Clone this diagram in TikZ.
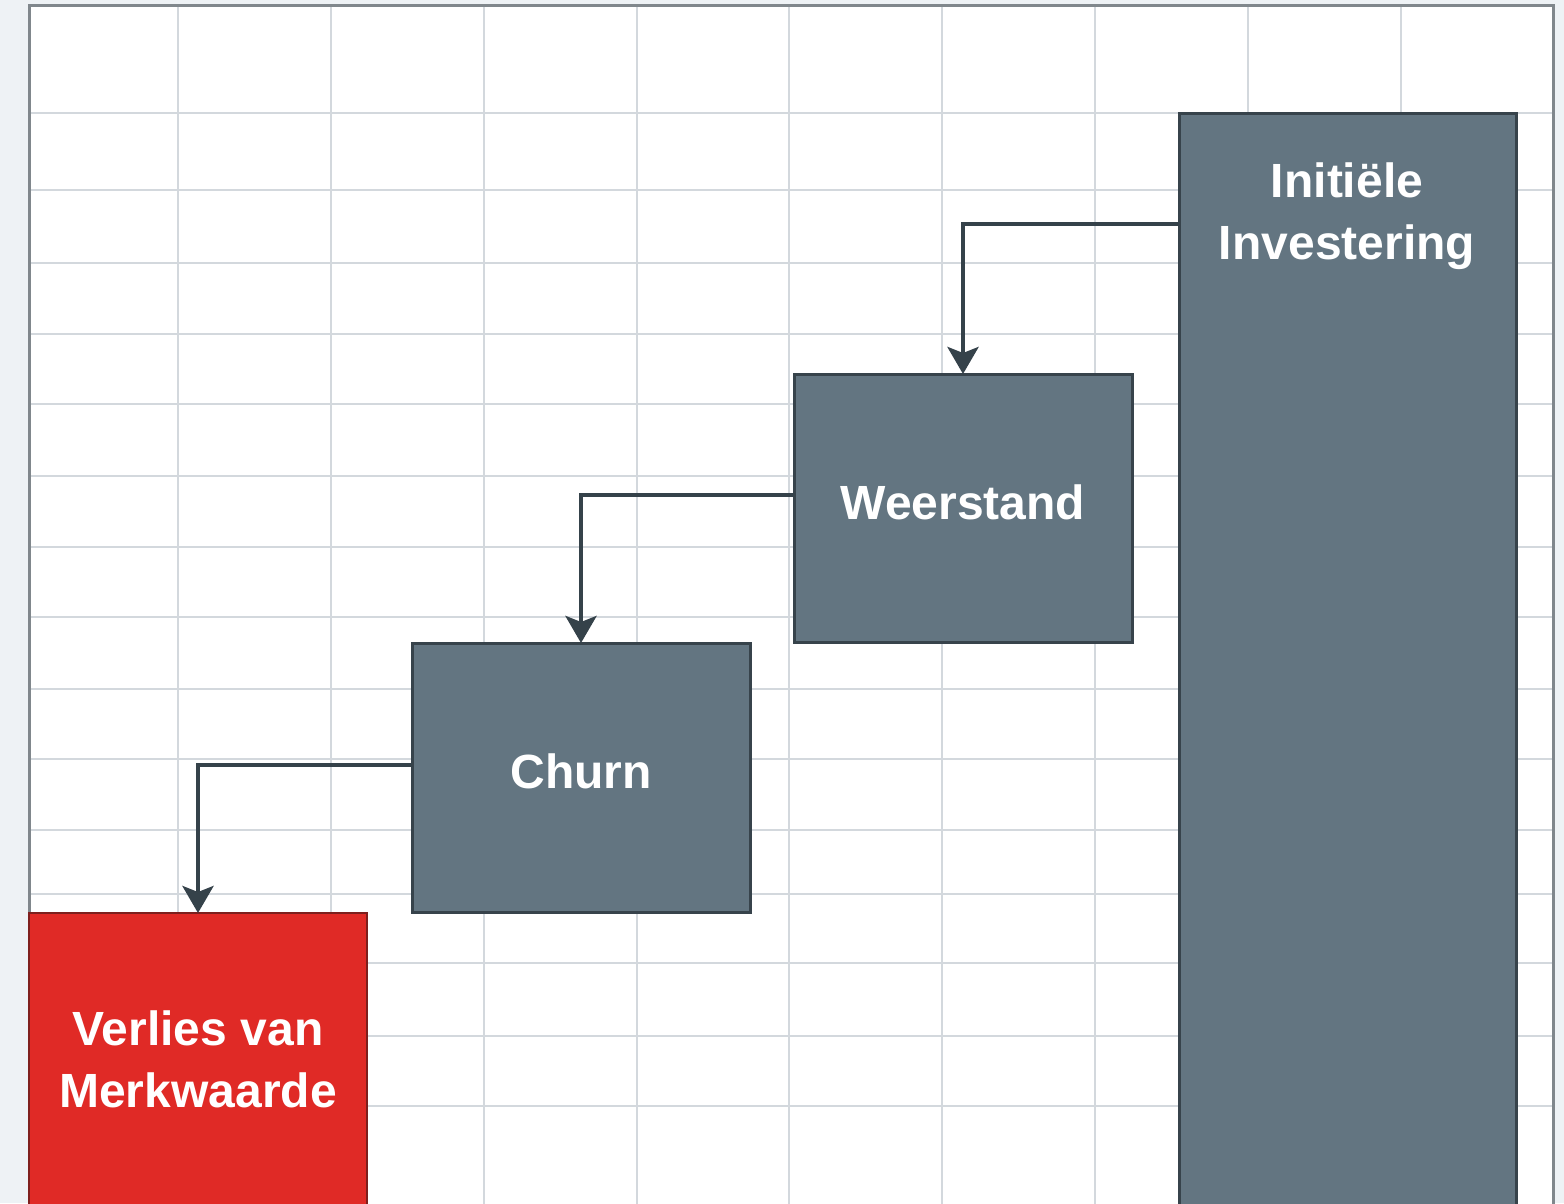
\documentclass[tikz,border=0pt]{standalone}
\usepackage{fontspec}
\setmainfont{Liberation Sans}
\usetikzlibrary{arrows.meta,calc}
\definecolor{outerbg}{HTML}{EEF2F5}
\definecolor{gridc}{HTML}{D3D8DD}
\definecolor{framec}{HTML}{80878C}
\definecolor{slate}{HTML}{637581}
\definecolor{slateedge}{HTML}{37434B}
\definecolor{alarm}{HTML}{E02A26}
\definecolor{alarmedge}{HTML}{7E1F1D}
\definecolor{connc}{HTML}{35424A}
\tikzset{
  blockbox/.style={draw=slateedge, line width=3pt, fill=slate, rectangle, inner sep=0pt, outer sep=0pt, anchor=north west},
  lossbox/.style={draw=alarmedge, line width=2pt, fill=alarm, rectangle, inner sep=0pt, outer sep=0pt, anchor=north west},
  lbl/.style={text=white, font=\bfseries\fontsize{48}{62}\selectfont, align=center, inner sep=0pt},
  conn/.style={draw=connc, line width=4.5pt, -{Stealth[length=27pt, width=31pt, inset=6pt]}},
  gridline/.style={draw=gridc, line width=1.8pt}
}
\begin{document}
\begin{tikzpicture}[x=1pt, y=-1pt]
\path[use as bounding box] (0,0) rectangle (1564,1203);
\clip (0,0) rectangle (1564,1203);
\fill[outerbg] (0,0) rectangle (1564,1203);
\fill[white] (29,5) rectangle (1553,1220);
% grid
\foreach \gx in {178,331,484,637,789,942,1095,1248,1401}
  \draw[gridline] (\gx,5) -- (\gx,1220);
\foreach \gy in {113,190,263,334,404,476,547,617,689,759,830,894,963,1036,1106}
  \draw[gridline] (29,\gy) -- (1553,\gy);
% frame
\draw[framec, line width=3pt] (29,1220) -- (29,5) -- (1553,5) -- (1553,1220);
% boxes
\node[blockbox, minimum width=337pt, minimum height=1150pt] (inv) at (1179,113) {};
\node[blockbox, minimum width=338pt, minimum height=268pt] (weer) at (794,374) {};
\node[blockbox, minimum width=338pt, minimum height=269pt] (churn) at (412,643) {};
\node[lossbox, minimum width=338pt, minimum height=300pt] (loss) at (29,913) {};
% labels
\node[lbl] (invtxt) at (1347,216) {Initiële\\Investering};
\node[lbl] (weertxt) at (963,502) {Weerstand};
\node[lbl] (churntxt) at (581,771) {Churn};
\node[lbl] (losstxt) at (198,1059) {Verlies van\\Merkwaarde};
% connectors
\draw[conn] ($(inv.north west)+(0,111)$) -| (weer.north);
\draw[conn] ($(weer.north west)+(0,121)$) -| (churn.north);
\draw[conn] ($(churn.north west)+(0,122)$) -| (loss.north);
\end{tikzpicture}
\end{document}
